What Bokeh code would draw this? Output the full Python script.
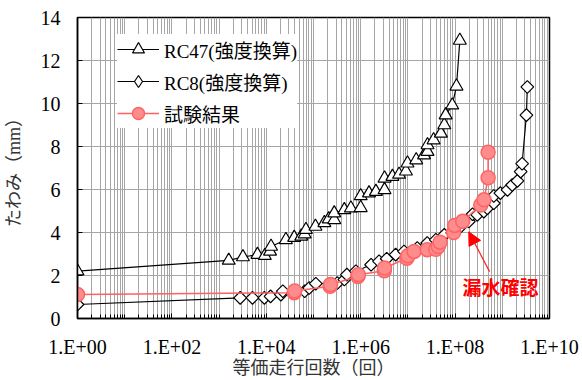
import math
from bokeh.plotting import figure
from bokeh.models import (FixedTicker, CustomJSTickFormatter, Legend, LegendItem,
                          Label, Arrow, NormalHead, Range1d)
from bokeh.embed import file_html
from bokeh.resources import INLINE

# ---- data ----
x_tick_values = [1e0, 1e2, 1e4, 1e6, 1e8, 1e10]
y_tick_values = [0, 2, 4, 6, 8, 10, 12, 14]

rc47_n = [1, 1.6e3, 3.2e3, 6.5e3, 9.3e3, 1.2e4, 1.26e4, 2.6e4, 3.9e4, 5.5e4, 6.5e4,
          6.9e4, 1.1e5, 1.7e5, 2.1e5, 2.75e5, 2.75e5, 4.5e5, 6.2e5, 1.0e6, 1.0e6,
          1.5e6, 2.1e6, 3.2e6, 3.2e6, 4.7e6, 6.5e6, 9.1e6, 9.8e6, 1.5e7, 2.2e7,
          2.6e7, 2.6e7, 3.5e7, 5.0e7, 5.9e7, 6.3e7, 8.7e7, 1.07e8, 1.26e8]
rc47_d = [2.20, 2.70, 2.86, 2.97, 2.92, 3.12, 3.35, 3.66, 3.76, 3.82, 3.92,
          4.13, 4.28, 4.45, 4.62, 4.59, 4.90, 5.05, 5.13, 5.15, 5.70,
          5.83, 5.90, 5.98, 6.52, 6.60, 6.70, 6.85, 7.22, 7.37, 7.60,
          7.76, 8.07, 8.30, 8.61, 9.00, 9.46, 9.92, 10.80, 12.93]

rc8_n = [1, 2.8e3, 5.1e3, 9.1e3, 1.23e4, 2.04e4, 2.24e4, 6.5e4, 8.1e4, 1.12e5,
         3.2e5, 4.5e5, 5.1e5, 7.9e5, 1.66e6, 2.45e6, 3.55e6, 5.5e6, 8.3e6, 1.58e7,
         2.57e7, 3.9e7, 5.9e7, 8.7e7, 1.32e8, 1.95e8, 2.34e8, 2.95e8, 4.07e8,
         4.8e8, 6.6e8, 6.6e8, 9.1e8, 1.29e9, 1.62e9, 2.09e9, 2.45e9, 2.63e9,
         3.24e9, 3.39e9]
rc8_d = [0.65, 0.96, 0.96, 0.96, 1.03, 1.11, 1.27, 1.27, 1.42, 1.62,
         1.65, 1.81, 2.04, 2.20, 2.50, 2.66, 2.78, 2.97, 3.12, 3.28,
         3.51, 3.66, 3.89, 3.99, 4.28, 4.51, 4.85, 4.82, 4.97,
         5.13, 5.36, 5.70, 5.83, 5.98, 6.21, 6.40, 6.83, 7.20,
         9.46, 10.77]

test_n = [1, 3.9e4, 4.0e4, 2.24e5, 2.3e5, 8.7e5, 8.9e5, 3.16e6, 3.2e6, 9.5e6,
          1.0e7, 1.35e7, 2.57e7, 3.9e7, 4.4e7, 4.8e7, 9.3e7, 9.8e7, 1.45e8,
          3.5e8, 4.1e8, 5.0e8, 5.0e8]
test_d = [1.12, 1.20, 1.28, 1.50, 1.58, 1.95, 2.04, 2.22, 2.35, 2.80,
          2.92, 3.12, 3.20, 3.22, 3.35, 3.55, 4.00, 4.33, 4.52,
          5.28, 5.52, 6.55, 7.73]

series_names = ["RC47(強度換算)", "RC8(強度換算)", "試験結果"]
x_title = "等価走行回数（回）"
y_title = "たわみ（mm）"
note_text = "漏水確認"

# ---- figure ----
SERIF = "'Liberation Serif', 'Noto Sans CJK JP'"

p = figure(width=582, height=380, x_axis_type="log",
           x_range=Range1d(1, 1e10), y_range=Range1d(0, 14),
           output_backend="svg", toolbar_location=None,
           min_border_left=76, min_border_right=33,
           min_border_top=17, min_border_bottom=61)
p.background_fill_color = "white"
p.border_fill_color = "white"
p.outline_line_color = "black"
p.outline_line_width = 1.5

all_minor = []
for k in range(0, 10):
    for m in range(1, 10):
        all_minor.append(float(m * 10 ** k))
all_minor.append(1e10)
x_minor_only = [v for v in all_minor if v not in x_tick_values]

p.xaxis.ticker = FixedTicker(ticks=x_tick_values, minor_ticks=x_minor_only)
p.xaxis.formatter = CustomJSTickFormatter(
    code="return '1.E+' + String(Math.round(Math.log10(tick))).padStart(2, '0');")
p.yaxis.ticker = FixedTicker(ticks=y_tick_values)

p.xgrid.ticker = FixedTicker(ticks=all_minor)
p.ygrid.ticker = FixedTicker(ticks=y_tick_values)
for g in (p.xgrid, p.ygrid):
    g.grid_line_color = "#a6a6a6"
    g.grid_line_width = 1

for ax in (p.xaxis, p.yaxis):
    ax.axis_line_color = "black"
    ax.axis_line_width = 1.5
    ax.major_tick_line_color = "black"
    ax.minor_tick_line_color = "black"
    ax.major_tick_in = 5
    ax.major_tick_out = 0
    ax.minor_tick_in = 4
    ax.minor_tick_out = 0
    ax.major_label_text_font = SERIF
    ax.major_label_text_font_size = "20px"
    ax.major_label_text_color = "black"
    ax.axis_label_text_font = SERIF
    ax.axis_label_text_font_size = "18px"
    ax.axis_label_text_font_style = "normal"
    ax.axis_label_text_color = "#333333"

p.xaxis.major_label_standoff = 17
p.yaxis.major_label_standoff = 17
p.xaxis.axis_label = x_title
p.yaxis.axis_label = y_title
p.xaxis.axis_label_standoff = -3
p.yaxis.axis_label_standoff = 14

# ---- series ----
l47 = p.line(rc47_n, rc47_d, line_color="black", line_width=1.2)
s47 = p.scatter(rc47_n, rc47_d, marker="triangle", size=13, fill_color="white",
                line_color="black", line_width=1.2)
l8 = p.line(rc8_n, rc8_d, line_color="black", line_width=1.2)
s8 = p.scatter(rc8_n, rc8_d, marker="square", angle=math.pi / 4, size=9,
               fill_color="white", line_color="black", line_width=1.2)
lt = p.line(test_n, test_d, line_color="#ff6060", line_width=1.5)
st = p.scatter(test_n, test_d, marker="circle", size=14, fill_color="#ff8c8c",
               line_color="#ff6464", line_width=1.5)

# legend-only diamond symbol (NaN data, nothing drawn in the plot)
key8 = p.scatter(x=[float("nan")], y=[float("nan")], marker="diamond",
                 fill_color="white", line_color="black", line_width=1.2)

legend = Legend(items=[
    LegendItem(label=series_names[0], renderers=[l47, s47]),
    LegendItem(label=series_names[1], renderers=[l8, key8]),
    LegendItem(label=series_names[2], renderers=[lt, st]),
], location=(40, 190))
legend.label_text_font = SERIF
legend.label_text_font_size = "19px"
legend.label_text_color = "black"
legend.glyph_width = 42
legend.glyph_height = 30
legend.label_height = 30
legend.spacing = 2
legend.padding = 4
legend.margin = 0
legend.label_standoff = 5
legend.border_line_color = None
legend.background_fill_color = "white"
legend.background_fill_alpha = 1.0
p.add_layout(legend)

# ---- annotation ----
p.add_layout(Arrow(x_start=10 ** 8.73, y_start=2.18, x_end=10 ** 8.29, y_end=4.03,
                   line_color="#ff2020", line_width=1.2,
                   end=NormalHead(size=13, fill_color="#ff0000", line_color="#ff0000")))
p.add_layout(Label(x=10 ** 8.96, y=1.48, text=note_text, text_align="center",
                   text_baseline="middle", text_color="#ff0000",
                   text_font="'Noto Sans CJK JP'", text_font_style="bold",
                   text_font_size="19px"))

open("out.html", "w").write(file_html(p, INLINE))
